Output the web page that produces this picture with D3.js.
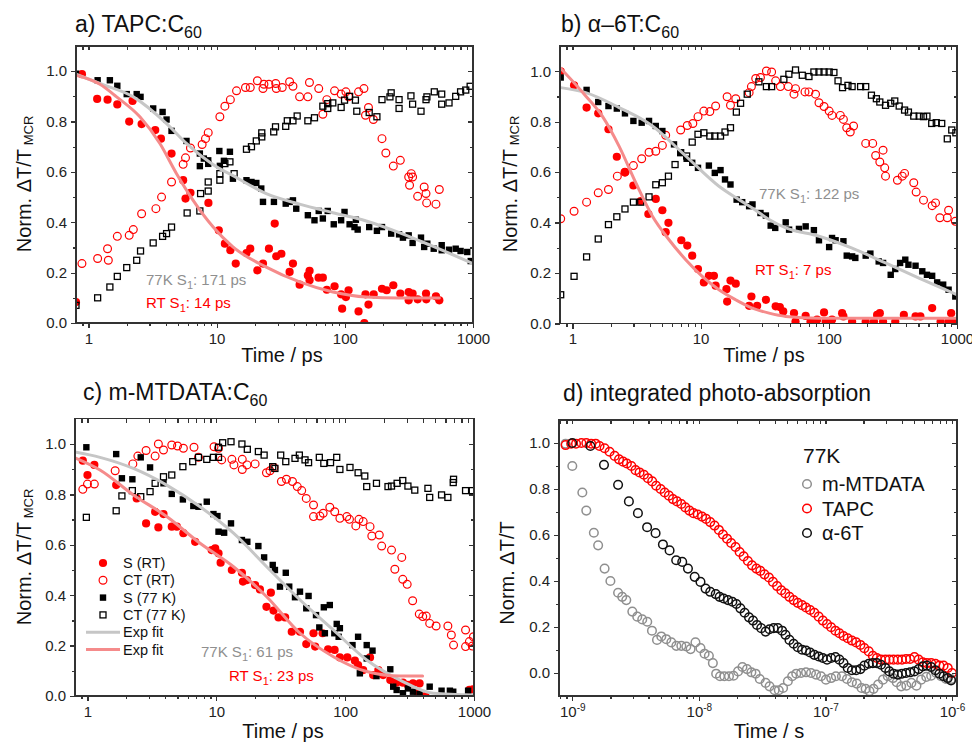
<!DOCTYPE html>
<html>
<head>
<meta charset="utf-8">
<title>Transient absorption kinetics</title>
<style>
  body { margin: 0; background: #fff; }
  svg text { font-family: "Liberation Sans", Arial, sans-serif; }
  .axis path { display: none; }
  .axis line { stroke: #333; stroke-width: 1.2; shape-rendering: crispEdges; }
  .axis text { font-size: 15px; fill: #222; }
  .frame { fill: none; stroke: #333; stroke-width: 1.4; shape-rendering: crispEdges; }
</style>
</head>
<body>
<svg id="fig" width="972" height="742"></svg>
<script src="https://cdnjs.cloudflare.com/ajax/libs/d3/7.8.5/d3.min.js"></script>
<script>
/*========= DATA  (time in ps for a-c, in s for d) =========*/
// a) TAPC:C60
var aS_RT = [[0.80,0.083],[0.89,0.988],[1.17,0.89],[1.41,0.887],[1.68,0.868],[2.08,0.80],[2.21,0.882],[2.60,0.79],[3.32,0.766],[3.68,0.732],[4.45,0.673],[5.48,0.567],[5.72,0.494],[6.25,0.517],[8.63,0.477],[10.4,0.368],[11.6,0.315],[12.8,0.289],[14.1,0.236],[17.1,0.278],[18.3,0.295],[20.8,0.209],[23.0,0.236],[25.6,0.295],[28.4,0.395],[29.2,0.265],[32,0.275],[37.1,0.203],[39.4,0.236],[44.4,0.152],[51.5,0.189],[53.1,0.207],[53.1,0.170],[62.4,0.18],[67.4,0.18],[72.4,0.132],[83.2,0.146],[93.6,0.114],[95.3,0.057],[102,0.103],[107,0.13],[128,0.046],[142,0.0],[145,0.114],[153,0.073],[168,0.114],[195,0.136],[212,0.13],[239,0.15],[271,0.117],[315,0.123],[315,0.09],[338,0.117],[370,0.094],[430,0.117],[432,0.094],[514,0.106],[546,0.09]];
var aCT_RT = [[0.89,0.236],[1.18,0.256],[1.41,0.295],[1.43,0.249],[1.68,0.344],[2.08,0.348],[2.24,0.371],[2.60,0.434],[3.36,0.454],[3.72,0.50],[4.45,0.56],[5.48,0.63],[5.72,0.656],[6.25,0.695],[7.71,0.709],[8.19,0.732],[8.6,0.756],[10.6,0.819],[11.6,0.861],[12.8,0.887],[14.3,0.922],[16.8,0.935],[18.3,0.935],[20.8,0.962],[23,0.931],[23.4,0.948],[25.6,0.948],[28.9,0.951],[29.2,0.931],[32.5,0.935],[37.1,0.958],[39.4,0.94],[44.4,0.898],[51.5,0.898],[53,0.955],[62.6,0.931],[67.4,0.829],[72.4,0.887],[83.2,0.922],[93.6,0.909],[102,0.918],[107,0.898],[128,0.918],[141,0.931],[145,0.825],[153,0.856],[167,0.808],[195,0.732],[209,0.675],[239,0.623],[271,0.646],[315,0.58],[320,0.547],[330,0.593],[338,0.58],[370,0.503],[416,0.54],[430,0.514],[435,0.477],[514,0.472],[546,0.53]];
var aS_77 = [[0.80,0.99],[1.18,0.964],[1.47,0.964],[1.68,0.942],[1.99,0.909],[2.38,0.909],[2.55,0.898],[3.2,0.852],[3.79,0.838],[4.07,0.808],[4.45,0.763],[5.82,0.723],[7.4,0.673],[7.4,0.623],[7.95,0.653],[8.6,0.646],[8.6,0.632],[10.5,0.683],[10.6,0.624],[11.4,0.644],[12.7,0.68],[13.4,0.573],[17.1,0.567],[18.7,0.56],[20.4,0.556],[22.3,0.534],[23,0.481],[28,0.481],[34.6,0.474],[37.1,0.481],[39.4,0.487],[41.8,0.454],[51.5,0.428],[58,0.408],[62.6,0.445],[67.4,0.415],[73.6,0.445],[82,0.392],[93.6,0.408],[99.5,0.441],[109,0.392],[119,0.381],[122,0.41],[126,0.371],[155,0.381],[178,0.366],[195,0.381],[230,0.355],[265,0.352],[284,0.339],[315,0.348],[338,0.318],[393,0.339],[416,0.302],[440,0.315],[494,0.295],[570,0.309],[570,0.289],[650,0.291],[733,0.295],[800,0.286],[902,0.282],[960,0.246]];
var aCT_77 = [[0.8,0.07],[1.18,0.10],[1.47,0.143],[1.68,0.185],[1.99,0.22],[2.38,0.249],[2.55,0.286],[3.2,0.318],[3.79,0.344],[4.07,0.355],[4.45,0.381],[5.89,0.437],[7.4,0.445],[7.5,0.514],[8.6,0.524],[8.6,0.56],[10.6,0.567],[10.6,0.593],[11.6,0.633],[12.7,0.64],[13.7,0.593],[17.1,0.69],[18.7,0.70],[20.4,0.723],[22.5,0.739],[22.5,0.755],[27.9,0.759],[28.8,0.779],[34.6,0.781],[35.6,0.803],[39.4,0.803],[42.5,0.822],[51.5,0.803],[58,0.815],[67.4,0.861],[73.6,0.871],[73.6,0.852],[80.6,0.874],[93.6,0.856],[99.5,0.885],[109,0.90],[121,0.885],[124,0.841],[155,0.836],[178,0.819],[195,0.887],[225,0.898],[230,0.914],[265,0.887],[265,0.852],[328,0.902],[338,0.869],[393,0.841],[430,0.887],[437,0.898],[499,0.918],[570,0.909],[570,0.869],[650,0.874],[733,0.90],[800,0.918],[878,0.925],[950,0.94]];
var aFit_77 = [[0.80,0.988],[1.23,0.951],[2.24,0.898],[4.07,0.792],[5.82,0.713],[10,0.62],[13.4,0.585],[24.4,0.514],[44.4,0.472],[80.7,0.438],[147,0.405],[266,0.359],[484,0.305],[1000,0.236]];
var aFit_RT = [[0.80,0.984],[1.23,0.948],[1.66,0.898],[2.52,0.819],[3.61,0.713],[4.87,0.593],[6.56,0.487],[9.4,0.381],[13.4,0.302],[24.4,0.222],[44.4,0.163],[80.7,0.123],[147,0.103],[266,0.099],[546,0.099]];

// b) alpha-6T:C60
var bS_RT = [[0.81,1.0],[1.03,0.944],[1.29,0.856],[1.59,0.833],[1.91,0.77],[2.22,0.661],[2.57,0.60],[2.99,0.547],[3.41,0.485],[3.91,0.434],[4.47,0.494],[5.03,0.449],[5.34,0.362],[5.61,0.399],[7.07,0.33],[7.87,0.309],[8.6,0.269],[9.54,0.216],[10.6,0.163],[11.6,0.189],[12.7,0.189],[13.1,0.15],[15.9,0.136],[16.1,0.087],[17.1,0.17],[18.8,0.158],[23.9,0.07],[24.9,0.107],[27.6,0.07],[32.3,0.094],[38.5,0.068],[41.5,0.065],[44.1,0.048],[53.5,0.041],[55,0.008],[66,0.03],[72,0.008],[81,0.015],[91.8,0.044],[94.5,0.008],[106,0.015],[127,0.041],[130,0.028],[152,0.008],[194,0.008],[225,0.008],[238,0.034],[250,0.041],[265,0.008],[330,0.008],[385,0.034],[475,0.028],[518,0.028],[640,0.061],[745,0.008],[860,0.008],[900,0.041],[975,0.008]];
var bCT_RT = [[0.81,0.415],[1.03,0.445],[1.29,0.481],[1.59,0.518],[1.91,0.531],[2.24,0.584],[2.57,0.60],[2.99,0.626],[3.47,0.653],[3.96,0.679],[4.47,0.683],[5.03,0.706],[5.34,0.746],[6.99,0.767],[7.87,0.785],[8.7,0.793],[9.54,0.82],[10.6,0.842],[11.8,0.84],[13.1,0.862],[16.1,0.899],[17.1,0.865],[18.8,0.891],[23.9,0.915],[24.9,0.939],[26.9,0.971],[29.3,0.975],[32.6,1.001],[35.8,0.997],[38.5,0.962],[41.9,0.939],[48.3,0.939],[53.5,0.909],[55,0.931],[65.2,0.918],[70,0.918],[78.8,0.909],[83.8,0.875],[91.8,0.86],[100.6,0.842],[106,0.825],[123,0.825],[130,0.809],[138,0.776],[147,0.759],[156,0.783],[194,0.714],[220,0.714],[232,0.666],[250,0.64],[265,0.687],[273,0.617],[277,0.584],[343,0.568],[374,0.584],[390,0.595],[460,0.558],[480,0.521],[548,0.489],[640,0.467],[680,0.478],[735,0.419],[840,0.419],[860,0.449],[970,0.405]];
var bS_77 = [[0.81,0.975],[1.29,0.926],[1.59,0.878],[1.91,0.862],[2.22,0.852],[2.57,0.833],[2.99,0.803],[3.47,0.796],[3.96,0.803],[4.47,0.783],[5.03,0.763],[6.2,0.71],[6.99,0.677],[7.78,0.653],[8.6,0.637],[9.54,0.617],[11.6,0.626],[12.9,0.597],[14.3,0.608],[15.5,0.571],[17.1,0.551],[19.1,0.491],[21.1,0.481],[23.9,0.465],[25.4,0.472],[29.3,0.438],[32.3,0.428],[35.2,0.388],[38.2,0.379],[46.1,0.401],[49,0.372],[58.5,0.375],[66,0.385],[76.5,0.37],[83.8,0.33],[100.6,0.303],[106,0.339],[113,0.33],[130,0.326],[138,0.269],[152,0.266],[161,0.26],[194,0.269],[211,0.277],[245,0.246],[265,0.24],[304,0.193],[330,0.216],[360,0.24],[395,0.253],[418,0.233],[475,0.229],[536,0.207],[583,0.193],[640,0.189],[700,0.163],[780,0.154],[860,0.134],[970,0.107]];
var bCT_77 = [[0.81,0.114],[1.03,0.187],[1.29,0.264],[1.59,0.335],[1.91,0.392],[2.22,0.423],[2.57,0.454],[2.99,0.481],[3.41,0.481],[3.96,0.502],[4.47,0.55],[5.03,0.558],[5.61,0.584],[6.32,0.63],[6.99,0.677],[7.78,0.664],[8.6,0.719],[9.54,0.75],[10.6,0.756],[11.8,0.743],[12.9,0.743],[14.3,0.743],[15.5,0.759],[17.1,0.776],[19,0.838],[20.5,0.873],[23.1,0.909],[28.5,0.958],[32.6,0.939],[35.8,0.939],[44.6,0.968],[48.8,0.988],[55,1.005],[62.1,0.984],[70,0.979],[76.5,0.997],[83.8,0.997],[91.8,0.997],[100.6,0.997],[109.6,0.995],[118,0.962],[128,0.935],[141,0.944],[152,0.939],[177,0.939],[194,0.939],[215,0.905],[235,0.891],[250,0.878],[277,0.865],[304,0.873],[327,0.882],[354,0.862],[390,0.846],[418,0.838],[460,0.822],[507,0.822],[548,0.82],[583,0.822],[635,0.793],[689,0.796],[760,0.793],[840,0.732],[910,0.767],[980,0.756]];
var bFit_77 = [[0.81,0.935],[1.27,0.915],[2.31,0.856],[4.21,0.783],[7.65,0.664],[13.9,0.544],[19.9,0.491],[25.3,0.458],[34.2,0.412],[46.1,0.379],[83.9,0.346],[152,0.299],[277,0.24],[505,0.18],[1000,0.114]];
var bFit_RT = [[0.78,1.02],[1.27,0.902],[1.71,0.822],[2.31,0.703],[3.12,0.558],[4.21,0.425],[5.67,0.332],[7.65,0.253],[10.3,0.187],[13.9,0.134],[18.8,0.094],[25.3,0.061],[34.2,0.041],[46.1,0.028],[83.9,0.021],[1000,0.021]];

// c) m-MTDATA:C60
var cS_RT = [[0.92,0.934],[1.0,0.877],[1.13,0.917],[1.67,0.837],[2.41,0.784],[2.85,0.685],[3.35,0.731],[3.55,0.669],[3.89,0.722],[4.51,0.672],[4.94,0.672],[5.55,0.646],[6.85,0.612],[9.2,0.579],[9.8,0.586],[10.4,0.566],[10.8,0.529],[13.2,0.50],[15.8,0.489],[16.1,0.454],[17.3,0.46],[20,0.44],[21.8,0.423],[26.5,0.41],[24.5,0.354],[27.8,0.339],[30.4,0.312],[34.2,0.312],[38.5,0.255],[44.6,0.255],[49.9,0.206],[56.8,0.249],[58.5,0.196],[66.8,0.249],[73.7,0.185],[82.8,0.183],[91,0.153],[104,0.153],[119,0.14],[126,0.123],[138,0.103],[156,0.153],[165,0.083],[181,0.103],[197,0.083],[224,0.063],[250,0.053],[281,0.053],[307,0.044],[336,0.05],[367,0.013],[378,0.05],[420,0.0],[921,0.024],[980,0.026]];
var cCT_RT = [[0.92,0.82],[1.0,0.841],[1.13,0.841],[1.64,0.894],[2.25,0.921],[2.46,0.952],[2.85,0.974],[3.35,0.952],[3.55,1.0],[3.89,0.976],[4.51,0.996],[5.0,0.992],[5.55,0.983],[6.71,0.987],[7.27,0.947],[9.6,0.989],[10.4,0.983],[11.0,0.937],[13.2,0.939],[13.7,0.917],[15.9,0.939],[15.9,0.899],[17.3,0.917],[20,0.921],[24.5,0.886],[26.1,0.894],[28,0.907],[32,0.851],[35,0.86],[39,0.851],[42.5,0.831],[46,0.815],[49.9,0.784],[56.8,0.758],[56.8,0.712],[63.7,0.714],[67.5,0.725],[76,0.749],[83,0.731],[91,0.705],[103,0.712],[108,0.701],[121,0.675],[128,0.701],[138,0.692],[156,0.672],[161,0.635],[184,0.639],[192,0.595],[229,0.579],[243,0.503],[275,0.55],[280,0.463],[303,0.443],[334,0.378],[376,0.325],[400,0.315],[426,0.317],[453,0.288],[508,0.278],[627,0.278],[667,0.242],[694,0.202],[860,0.262],[860,0.196],[921,0.216],[970,0.198],[990,0.235]];
var cS_77 = [[0.98,0.987],[1.67,0.96],[1.85,0.864],[2.23,0.86],[2.59,0.947],[3.06,0.907],[3.89,0.844],[4.51,0.802],[5.5,0.78],[6.63,0.754],[7.27,0.751],[8.43,0.771],[9.5,0.722],[10.2,0.714],[10.4,0.652],[11.5,0.648],[13.0,0.685],[15.8,0.619],[17.4,0.612],[21.2,0.595],[23.5,0.55],[27.4,0.52],[28.5,0.50],[34.6,0.489],[31.2,0.434],[36.8,0.434],[40.8,0.392],[44.6,0.414],[49.9,0.348],[52,0.397],[59.4,0.321],[63,0.272],[68.3,0.352],[76,0.361],[69.6,0.249],[82.4,0.249],[86,0.286],[89,0.235],[91,0.269],[114,0.202],[126,0.235],[130,0.09],[147,0.202],[163,0.18],[147,0.149],[175,0.079],[224,0.106],[236,0.037],[251,0.024],[281,0.011],[307,0.03],[336,0.017],[378,0.008],[453,0.037],[560,0.021],[650,0.021],[690,0.017],[900,0.021]];
var cCT_77 = [[0.98,0.709],[1.67,0.735],[1.85,0.794],[2.23,0.815],[2.59,0.791],[3.06,0.811],[3.35,0.844],[3.89,0.87],[4.51,0.877],[5.5,0.91],[6.56,0.93],[7.27,0.947],[8.43,0.939],[9.5,0.947],[10.4,0.947],[10.4,0.987],[11.2,1.005],[13.0,1.009],[15.8,1.0],[17.4,0.979],[21.2,0.97],[23.5,0.956],[27.4,0.91],[28.5,0.903],[31.6,0.956],[34.6,0.93],[40.8,0.943],[44.1,0.956],[48.8,0.937],[52,0.926],[63,0.947],[68.3,0.923],[77,0.926],[86,0.947],[91,0.899],[109,0.907],[126,0.886],[142,0.873],[147,0.831],[175,0.844],[215,0.831],[229,0.833],[253,0.844],[280,0.855],[307,0.833],[347,0.817],[439,0.824],[453,0.788],[560,0.798],[627,0.788],[690,0.847],[694,0.86],[860,0.815],[970,0.815]];
var cFit_77 = [[0.8,0.968],[1.25,0.947],[2.27,0.903],[4.12,0.837],[7.48,0.751],[13.6,0.646],[24.6,0.513],[44.7,0.381],[81,0.262],[147,0.143],[267,0.063],[483,0.011],[1000,0.004]];
var cFit_RT = [[0.8,0.945],[1.25,0.897],[2.27,0.798],[4.12,0.712],[7.48,0.606],[13.6,0.513],[24.6,0.394],[44.7,0.249],[81,0.156],[147,0.097],[267,0.079],[399,0.079]];

// d) integrated photo-absorption, 77K (time in s)
var dMTDATA = [[0.885e-9,0.997],[1.0e-9,0.90],[1.2e-9,0.785],[1.29e-9,0.706],[1.48e-9,0.61],[1.6e-9,0.555],[1.8e-9,0.454],[2.0e-9,0.40],[2.3e-9,0.349],[2.48e-9,0.331],[2.67e-9,0.317],[2.98e-9,0.267],[3.26e-9,0.245],[3.57e-9,0.233],[3.91e-9,0.223],[4.26e-9,0.184],[4.67e-9,0.144],[5.05e-9,0.159],[5.53e-9,0.147],[6.06e-9,0.133],[6.64e-9,0.118],[7.27e-9,0.118],[7.96e-9,0.115],[8.6e-9,0.104],[9.4e-9,0.133],[10.3e-9,0.108],[11.1e-9,0.084],[12.0e-9,0.075],[12.9e-9,0.043],[13.7e-9,-0.003],[14.7e-9,-0.014],[15.9e-9,-0.014],[17.3e-9,-0.014],[18.8e-9,-0.012],[20.4e-9,0.007],[22.1e-9,0.026],[24e-9,0.017],[26e-9,0.003],[28.1e-9,-0.003],[30.3e-9,-0.026],[33.7e-9,-0.043],[36.2e-9,-0.058],[39.7e-9,-0.075],[42.8e-9,-0.075],[46.3e-9,-0.065],[50.5e-9,-0.036],[54.6e-9,-0.014],[58.8e-9,-0.003],[64.3e-9,0.0],[70.3e-9,0.003],[76.9e-9,0.0],[84.3e-9,-0.007],[92.4e-9,-0.014],[101e-9,-0.029],[111e-9,-0.022],[121e-9,-0.014],[135e-9,-0.014],[148e-9,-0.026],[162e-9,-0.04],[177e-9,-0.046],[193e-9,-0.065],[208e-9,-0.069],[223e-9,-0.079],[240e-9,-0.069],[261e-9,-0.05],[285e-9,-0.029],[311e-9,-0.014],[342e-9,-0.022],[366e-9,-0.04],[397e-9,-0.058],[436e-9,-0.055],[478e-9,-0.043],[524e-9,-0.055],[571e-9,-0.029],[627e-9,-0.017],[685e-9,-0.012],[750e-9,0.0],[820e-9,-0.014],[898e-9,-0.026],[984e-9,-0.026]];
var dTAPC = [[0.885e-9,0.991],[0.98e-9,0.997],[1.07e-9,0.997],[1.18e-9,1.0],[1.29e-9,1.0],[1.41e-9,0.997],[1.53e-9,0.997],[1.64e-9,0.987],[1.8e-9,0.977],[1.97e-9,0.962],[2.16e-9,0.944],[2.34e-9,0.929],[2.52e-9,0.919],[2.7e-9,0.911],[2.93e-9,0.90],[3.16e-9,0.882],[3.4e-9,0.872],[3.68e-9,0.862],[3.96e-9,0.847],[4.28e-9,0.833],[4.6e-9,0.814],[4.99e-9,0.8],[5.37e-9,0.785],[5.8e-9,0.771],[6.24e-9,0.756],[6.72e-9,0.746],[7.27e-9,0.735],[7.82e-9,0.72],[8.43e-9,0.706],[9.07e-9,0.695],[9.8e-9,0.689],[10.6e-9,0.68],[11.4e-9,0.67],[12.3e-9,0.656],[13.3e-9,0.641],[14.4e-9,0.622],[15.5e-9,0.602],[16.7e-9,0.584],[18e-9,0.565],[19.5e-9,0.548],[21e-9,0.526],[22.6e-9,0.507],[24.4e-9,0.487],[26.3e-9,0.468],[28.5e-9,0.454],[30.6e-9,0.444],[33e-9,0.429],[35.8e-9,0.415],[38.5e-9,0.396],[41.5e-9,0.378],[44.8e-9,0.36],[48.2e-9,0.346],[52e-9,0.331],[56.1e-9,0.317],[60.5e-9,0.305],[65.4e-9,0.295],[70.3e-9,0.285],[75.7e-9,0.274],[81.8e-9,0.262],[88.5e-9,0.245],[95.4e-9,0.228],[103e-9,0.213],[111e-9,0.199],[120e-9,0.184],[129e-9,0.173],[139e-9,0.161],[150e-9,0.151],[162e-9,0.141],[175e-9,0.133],[189e-9,0.122],[203e-9,0.108],[220e-9,0.094],[237e-9,0.075],[255e-9,0.065],[275e-9,0.058],[298e-9,0.058],[320e-9,0.058],[345e-9,0.058],[373e-9,0.058],[403e-9,0.058],[434e-9,0.061],[467e-9,0.061],[505e-9,0.069],[545e-9,0.058],[588e-9,0.046],[633e-9,0.043],[685e-9,0.043],[740e-9,0.04],[796e-9,0.032],[858e-9,0.032],[926e-9,0.022],[1000e-9,0.0]];
var d6T = [[1.0e-9,1.0],[1.39e-9,0.987],[1.78e-9,0.905],[2.3e-9,0.818],[2.8e-9,0.746],[3.3e-9,0.695],[3.9e-9,0.634],[4.55e-9,0.608],[5.2e-9,0.559],[5.87e-9,0.533],[6.62e-9,0.49],[7.39e-9,0.483],[8.2e-9,0.454],[9.27e-9,0.418],[10.3e-9,0.396],[11.3e-9,0.367],[12.3e-9,0.353],[13.6e-9,0.343],[14.6e-9,0.331],[15.7e-9,0.324],[17e-9,0.317],[18.4e-9,0.31],[19.8e-9,0.3],[21.3e-9,0.281],[23e-9,0.262],[24.9e-9,0.242],[26.8e-9,0.228],[28.8e-9,0.209],[31.1e-9,0.195],[33.7e-9,0.18],[36.2e-9,0.19],[39e-9,0.195],[42.1e-9,0.195],[45.5e-9,0.184],[48.4e-9,0.166],[52e-9,0.144],[56.1e-9,0.127],[60.5e-9,0.112],[65.4e-9,0.101],[70.3e-9,0.098],[75.7e-9,0.089],[81.8e-9,0.079],[88.5e-9,0.072],[95.4e-9,0.065],[103e-9,0.058],[111e-9,0.065],[120e-9,0.069],[129e-9,0.058],[139e-9,0.043],[150e-9,0.022],[162e-9,0.012],[175e-9,0.012],[189e-9,0.017],[203e-9,0.032],[220e-9,0.04],[237e-9,0.043],[255e-9,0.043],[275e-9,0.036],[298e-9,0.022],[320e-9,0.007],[345e-9,-0.003],[373e-9,-0.007],[403e-9,-0.003],[434e-9,0.0],[467e-9,0.003],[505e-9,0.007],[545e-9,0.017],[588e-9,0.029],[633e-9,0.032],[685e-9,0.026],[740e-9,0.012],[796e-9,-0.003],[858e-9,-0.014],[926e-9,-0.022],[984e-9,-0.032]];

/*========= tick labels / legend text =========*/
var psTicks = [1, 10, 100, 1000];
var sTicks = [1e-9, 1e-8, 1e-7, 1e-6];
var yTicks = [0, 0.2, 0.4, 0.6, 0.8, 1.0];
var legendC = ['S (RT)', 'CT (RT)', 'S (77 K)', 'CT (77 K)', 'Exp fit', 'Exp fit'];
var legendD = ['m-MTDATA', 'TAPC', '\u03b1-6T'];

/*========= colours =========*/
var RED = '#ff0000', BLACK = '#000000', GREY = '#8f8f8f';
var FIT_GREY = '#c6c6c6', FIT_RED = '#f58b8b';

var svg = d3.select('#fig');

function minorTicks(dom) {
  var out = [];
  var lo = Math.floor(Math.log10(dom[0])), hi = Math.ceil(Math.log10(dom[1]));
  for (var e = lo; e < hi; e++) {
    for (var k = 2; k <= 9; k++) {
      var v = k * Math.pow(10, e);
      if (v > dom[0] && v < dom[1]) out.push(v);
    }
  }
  return out;
}

// one panel: frame, ticks on all four sides, clipped plot group
function panel(o) {
  var x = d3.scaleLog().domain(o.xd).range([o.l, o.r]);
  var y = d3.scaleLinear().domain(o.yd).range([o.b, o.t]);
  var g = svg.append('g');
  var xMin = minorTicks(o.xd);
  var yMin = o.yMinor;

  g.append('g').attr('class', 'axis xmajor').attr('transform', 'translate(0,' + o.b + ')')
    .call(d3.axisBottom(x).tickValues(o.xTicks).tickSize(5).tickPadding(5).tickFormat(o.xfmt || d3.format('d')));
  g.append('g').attr('class', 'axis').attr('transform', 'translate(0,' + o.b + ')')
    .call(d3.axisBottom(x).tickValues(xMin).tickSize(3).tickFormat(''));
  g.append('g').attr('class', 'axis').attr('transform', 'translate(0,' + o.t + ')')
    .call(d3.axisTop(x).tickValues(o.xTicks.concat(xMin)).tickSizeInner(-4).tickFormat(''));

  g.append('g').attr('class', 'axis').attr('transform', 'translate(' + o.l + ',0)')
    .call(d3.axisLeft(y).tickValues(yTicks).tickSize(5).tickPadding(4).tickFormat(d3.format('.1f')));
  g.append('g').attr('class', 'axis').attr('transform', 'translate(' + o.l + ',0)')
    .call(d3.axisLeft(y).tickValues(yMin).tickSize(3).tickFormat(''));
  g.append('g').attr('class', 'axis').attr('transform', 'translate(' + o.r + ',0)')
    .call(d3.axisRight(y).tickValues(yTicks).tickSize(-5).tickFormat(''));
  g.append('g').attr('class', 'axis').attr('transform', 'translate(' + o.r + ',0)')
    .call(d3.axisRight(y).tickValues(yMin).tickSize(-3).tickFormat(''));

  var cid = 'clip' + o.id;
  svg.append('clipPath').attr('id', cid).append('rect')
    .attr('x', o.l).attr('y', o.t).attr('width', o.r - o.l).attr('height', o.b - o.t);
  var plot = g.append('g').attr('clip-path', 'url(#' + cid + ')');
  g.append('rect').attr('class', 'frame')
    .attr('x', o.l).attr('y', o.t).attr('width', o.r - o.l).attr('height', o.b - o.t);

  // title with subscript
  var t = g.append('text').attr('x', o.tx).attr('y', o.ty).style('font-size', '23px').attr('fill', '#111');
  t.append('tspan').text(o.title);
  if (o.titleSub) t.append('tspan').attr('dy', 6).style('font-size', '16px').text(o.titleSub);

  // axis titles
  g.append('text').attr('x', o.xlx).attr('y', o.xly).attr('text-anchor', 'middle')
    .style('font-size', '20px').attr('fill', '#111').text(o.xlabel);
  var yl = g.append('text').attr('transform', 'translate(' + o.ylx + ',' + o.yly + ') rotate(-90)')
    .attr('text-anchor', 'middle').style('font-size', '20px').attr('fill', '#111');
  yl.append('tspan').text('Norm. \u0394T/T');
  if (o.ysub) yl.append('tspan').attr('dy', 2).style('font-size', '13px').text(' ' + o.ysub);

  return { x: x, y: y, g: g, plot: plot };
}

function filledCircles(p, data, col) {
  p.plot.selectAll(null).data(data).enter().append('circle')
    .attr('cx', d => p.x(d[0])).attr('cy', d => p.y(d[1])).attr('r', 4.1).attr('fill', col);
}
function openCircles(p, data, col, r, sw) {
  p.plot.selectAll(null).data(data).enter().append('circle')
    .attr('cx', d => p.x(d[0])).attr('cy', d => p.y(d[1])).attr('r', r || 3.9)
    .attr('fill', 'none').attr('stroke', col).attr('stroke-width', sw || 1.2);
}
function filledSquares(p, data, col) {
  p.plot.selectAll(null).data(data).enter().append('rect')
    .attr('x', d => p.x(d[0]) - 3.2).attr('y', d => p.y(d[1]) - 3.2)
    .attr('width', 6.4).attr('height', 6.4).attr('fill', col);
}
function openSquares(p, data, col) {
  p.plot.selectAll(null).data(data).enter().append('rect')
    .attr('x', d => p.x(d[0]) - 3).attr('y', d => p.y(d[1]) - 3)
    .attr('width', 6).attr('height', 6).attr('fill', 'none')
    .attr('stroke', col).attr('stroke-width', 1.3);
}
function fitLine(p, data, col) {
  var line = d3.line().x(d => p.x(d[0])).y(d => p.y(d[1])).curve(d3.curveMonotoneX);
  p.plot.append('path').attr('d', line(data)).attr('fill', 'none')
    .attr('stroke', col).attr('stroke-width', 3).attr('stroke-linecap', 'round');
}
function note(p, xx, yy, col, pre, sub, post) {
  var t = p.g.append('text').attr('x', xx).attr('y', yy).style('font-size', '15px').attr('fill', col);
  t.append('tspan').text(pre);
  t.append('tspan').attr('dy', 4).style('font-size', '11px').text(sub);
  t.append('tspan').attr('dy', -4).text(post);
}

var ps = [0.8, 1000];
var yMinor01 = [0.1, 0.3, 0.5, 0.7, 0.9];

/* ---- a ---- */
var pa = panel({ id: 'a', l: 76, r: 473, t: 46, b: 323, xd: ps, yd: [0, 1.1], xTicks: psTicks, yMinor: yMinor01,
  title: 'a) TAPC:C', titleSub: '60', tx: 75, ty: 32, xlabel: 'Time / ps', xlx: 282, xly: 362,
  ylx: 31, yly: 184, ysub: 'MCR' });
filledCircles(pa, aS_RT, RED);
openCircles(pa, aCT_RT, RED);
filledSquares(pa, aS_77, BLACK);
openSquares(pa, aCT_77, BLACK);
fitLine(pa, aFit_77, FIT_GREY);
fitLine(pa, aFit_RT, FIT_RED);
note(pa, 146, 285, GREY, '77K S', '1', ': 171 ps');
note(pa, 146, 308, RED, 'RT S', '1', ': 14 ps');

/* ---- b ---- */
var pb = panel({ id: 'b', l: 560, r: 957, t: 46, b: 323.5, xd: ps, yd: [0, 1.1], xTicks: psTicks, yMinor: yMinor01,
  title: 'b) \u03b1\u20136T:C', titleSub: '60', tx: 561, ty: 32, xlabel: 'Time / ps', xlx: 764, xly: 362,
  ylx: 517, yly: 184, ysub: 'MCR' });
filledCircles(pb, bS_RT, RED);
openCircles(pb, bCT_RT, RED);
filledSquares(pb, bS_77, BLACK);
openSquares(pb, bCT_77, BLACK);
fitLine(pb, bFit_77, FIT_GREY);
fitLine(pb, bFit_RT, FIT_RED);
note(pb, 759, 199, GREY, '77K S', '1', ': 122 ps');
note(pb, 755, 275, RED, 'RT S', '1', ': 7 ps');

/* ---- c ---- */
var pc = panel({ id: 'c', l: 75, r: 474, t: 418.8, b: 696, xd: ps, yd: [0, 1.1], xTicks: psTicks, yMinor: yMinor01,
  title: 'c) m-MTDATA:C', titleSub: '60', tx: 83, ty: 400, xlabel: 'Time / ps', xlx: 283, xly: 738,
  ylx: 31, yly: 557, ysub: 'MCR' });
filledCircles(pc, cS_RT, RED);
openCircles(pc, cCT_RT, RED);
filledSquares(pc, cS_77, BLACK);
openSquares(pc, cCT_77, BLACK);
fitLine(pc, cFit_77, FIT_GREY);
fitLine(pc, cFit_RT, FIT_RED);
note(pc, 201, 657, GREY, '77K S', '1', ': 61 ps');
note(pc, 229, 681, RED, 'RT S', '1', ': 23 ps');

// legend c
var lg = pc.g.append('g');
legendC.forEach(function (name, i) {
  var yy = 563 + i * 17.3;
  if (i === 0) lg.append('circle').attr('cx', 103).attr('cy', yy).attr('r', 4.1).attr('fill', RED);
  if (i === 1) lg.append('circle').attr('cx', 103).attr('cy', yy).attr('r', 3.9).attr('fill', 'none').attr('stroke', RED).attr('stroke-width', 1.2);
  if (i === 2) lg.append('rect').attr('x', 99.8).attr('y', yy - 3.2).attr('width', 6.4).attr('height', 6.4).attr('fill', BLACK);
  if (i === 3) lg.append('rect').attr('x', 100).attr('y', yy - 3).attr('width', 6).attr('height', 6).attr('fill', 'none').attr('stroke', BLACK).attr('stroke-width', 1.3);
  if (i === 4) lg.append('line').attr('x1', 86).attr('x2', 120).attr('y1', yy).attr('y2', yy).attr('stroke', FIT_GREY).attr('stroke-width', 3);
  if (i === 5) lg.append('line').attr('x1', 86).attr('x2', 120).attr('y1', yy).attr('y2', yy).attr('stroke', FIT_RED).attr('stroke-width', 3);
  lg.append('text').attr('x', 123).attr('y', yy + 5).style('font-size', '14.5px').attr('fill', '#111').text(name);
});

/* ---- d ---- */
var pd = panel({ id: 'd', l: 559, r: 957, t: 420, b: 696, xd: [7.85e-10, 1.096e-6], yd: [-0.1, 1.1], xTicks: sTicks,
  yMinor: [0.1, 0.3, 0.5, 0.7, 0.9], xfmt: function () { return ''; },
  title: 'd) integrated photo-absorption', tx: 563, ty: 401, xlabel: 'Time / s', xlx: 769, xly: 738,
  ylx: 514, yly: 573 });
// superscript decade labels on the bottom axis only
pd.g.select('.xmajor').selectAll('text')
  .each(function (d) {
    var t = d3.select(this);
    t.text('');
    t.append('tspan').text('10');
    t.append('tspan').attr('dy', -6).style('font-size', '10px').text(String(Math.round(Math.log10(d))));
  });
openCircles(pd, dMTDATA, GREY, 4.3, 1.5);
openCircles(pd, dTAPC, RED, 4.3, 1.5);
openCircles(pd, d6T, '#111', 4.3, 1.5);

// legend d
pd.g.append('text').attr('x', 803).attr('y', 463).style('font-size', '21px').attr('fill', '#111').text('77K');
[GREY, RED, '#111'].forEach(function (col, i) {
  var yy = 484 + i * 24.5;
  pd.g.append('circle').attr('cx', 807).attr('cy', yy).attr('r', 4.3).attr('fill', 'none')
    .attr('stroke', col).attr('stroke-width', 1.5);
  pd.g.append('text').attr('x', 822).attr('y', yy + 7).style('font-size', '20px').attr('fill', '#111').text(legendD[i]);
});
</script>
</body>
</html>
